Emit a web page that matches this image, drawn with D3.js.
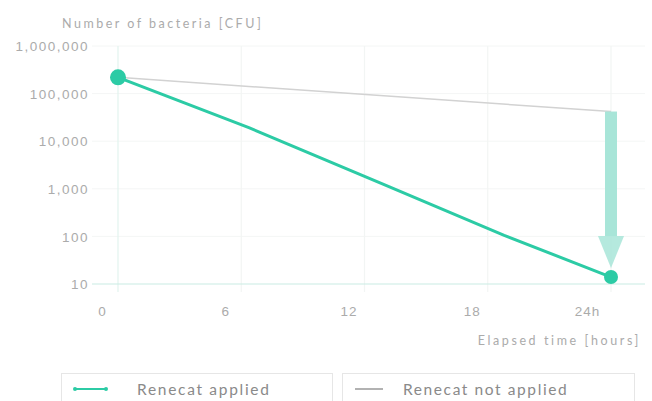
<!DOCTYPE html>
<html><head><meta charset="utf-8">
<script src="https://cdn.jsdelivr.net/npm/d3@7"></script>
<style>
html,body{margin:0;padding:0;background:#fff;}
svg{display:block;font-family:Lato,"Open Sans",sans-serif;}
</style></head>
<body>
<svg id="c" width="652" height="401"></svg>
<script>
const hours = [0, 6, 12, 18, 24];
const hourLabels = ["0", "6", "12", "18", "24h"];
const yTicks = [10, 100, 1000, 10000, 100000, 1000000];
const appliedHours = [0, 6.4, 12.9, 18.8, 24];
const appliedValues = [220000, 19000, 1250, 105, 14];
const notAppliedHours = [0, 24];
const notAppliedValues = [220000, 42000];
const seriesNames = ["Renecat applied", "Renecat not applied"];
const yTitle = "Number of bacteria [CFU]";
const xTitle = "Elapsed time [hours]";

const teal = "#2ccba5", gray = "#d2d2d2", arrowCol = "#a8e5d8", txt = "#ababab";
const svg = d3.select("#c");
const x = d3.scaleLinear().domain([0, 24]).range([118, 611]);
const y = d3.scaleLog().domain([10, 1000000]).range([284, 46]);

// grid
svg.append("g").selectAll("line").data(yTicks.slice(1)).join("line")
  .attr("x1", 92).attr("x2", 645).attr("y1", d => y(d)).attr("y2", d => y(d))
  .attr("stroke", "#f4f6f5").attr("stroke-width", 1);
svg.append("g").selectAll("line").data(hours).join("line")
  .attr("x1", d => x(d)).attr("x2", d => x(d)).attr("y1", 46).attr("y2", 292)
  .attr("stroke", (d,i) => i === 0 ? "#e2f4ef" : "#f2f5f4").attr("stroke-width", 1.2);
svg.append("line").attr("x1", 92).attr("x2", 645).attr("y1", y(10)).attr("y2", y(10))
  .attr("stroke", "#c9ece3").attr("stroke-width", 1.2);

// axes
const fmt = d3.format(",");
const yAxis = svg.append("g").attr("transform", "translate(90,0)")
  .call(d3.axisLeft(y).tickValues(yTicks).tickFormat(fmt).tickSize(0).tickPadding(1));
yAxis.select(".domain").remove();
yAxis.selectAll("text").attr("fill", txt).style("font-size", "13.5px").style("letter-spacing", "1.5px").attr("dy", "0.35em");

const xAxis = svg.append("g").attr("transform", "translate(0,306)")
  .call(d3.axisBottom(x).tickValues(hours).tickFormat((d,i) => hourLabels[i]).tickSize(0).tickPadding(0));
xAxis.select(".domain").remove();
xAxis.selectAll("text").attr("fill", txt).style("font-size", "13.5px").style("letter-spacing", "1px")
  .attr("dx", (d,i) => i === 4 ? -24 : -16);

svg.append("text").attr("x", 62).attr("y", 28).attr("fill", txt).style("font-size", "12.5px").style("letter-spacing", "2.5px").text(yTitle);
svg.append("text").attr("x", 641).attr("y", 345).attr("text-anchor", "end").attr("fill", txt).style("font-size", "12.5px").style("letter-spacing", "2.6px").text(xTitle);

// lines
const line = d3.line().x(d => x(d[0])).y(d => y(d[1]));
svg.append("path").datum(d3.zip(notAppliedHours, notAppliedValues)).attr("d", line)
  .attr("fill", "none").attr("stroke", gray).attr("stroke-width", 1.5);
svg.append("path").datum(d3.zip(appliedHours, appliedValues)).attr("d", line)
  .attr("fill", "none").attr("stroke", teal).attr("stroke-width", 3);

// arrow
const ax = x(24), ay0 = y(notAppliedValues[1]), ay1 = y(appliedValues[4]) - 9;
svg.append("rect").attr("x", ax - 6).attr("y", ay0).attr("width", 12).attr("height", (ay1 - 32) - ay0)
  .attr("fill", arrowCol);
svg.append("path").attr("d", `M${ax-13},${ay1-32} L${ax+13},${ay1-32} L${ax},${ay1} Z`)
  .attr("fill", arrowCol).attr("opacity", 0.85);

// end dots
svg.append("circle").attr("cx", x(appliedHours[0])).attr("cy", y(appliedValues[0])).attr("r", 8).attr("fill", teal);
svg.append("circle").attr("cx", x(appliedHours[4])).attr("cy", y(appliedValues[4])).attr("r", 7).attr("fill", teal);

// legend
const lg = svg.append("g");
lg.append("rect").attr("x", 61.5).attr("y", 373.5).attr("width", 271).attr("height", 40).attr("fill", "#fff").attr("stroke", "#e6e6e6");
lg.append("rect").attr("x", 342.5).attr("y", 373.5).attr("width", 292).attr("height", 40).attr("fill", "#fff").attr("stroke", "#e6e6e6");
lg.append("line").attr("x1", 74).attr("x2", 107).attr("y1", 389).attr("y2", 389).attr("stroke", teal).attr("stroke-width", 2);
lg.append("circle").attr("cx", 75).attr("cy", 389).attr("r", 2).attr("fill", teal);
lg.append("circle").attr("cx", 106).attr("cy", 389).attr("r", 2).attr("fill", teal);
lg.append("line").attr("x1", 355).attr("x2", 383).attr("y1", 389).attr("y2", 389).attr("stroke", "#999").attr("stroke-width", 1.5);
lg.append("text").attr("x", 137).attr("y", 395).attr("fill", "#8a8a8a").style("font-size", "15.5px").style("letter-spacing", "1.7px").text(seriesNames[0]);
lg.append("text").attr("x", 403).attr("y", 395).attr("fill", "#8a8a8a").style("font-size", "15.5px").style("letter-spacing", "1.6px").text(seriesNames[1]);
</script>
</body></html>
